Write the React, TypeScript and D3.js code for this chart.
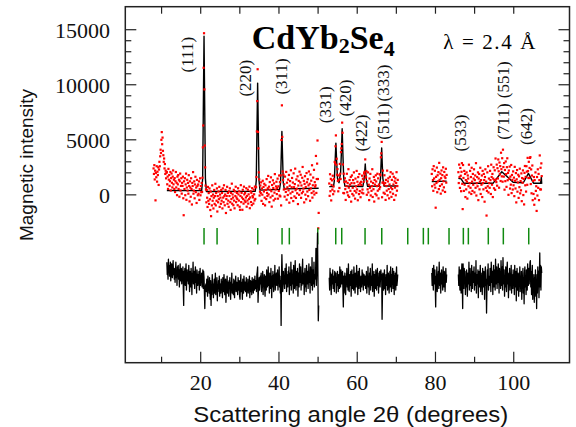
import React from 'react';
import * as d3 from 'd3';

const W = 576;
const H = 427;
const STEP = 0.1; // degrees between measured points
const RESID_UNIT = 140; // counts per unit in the residual arrays
const DIFF_OFFSET = -7800; // vertical offset of the difference curve (counts)

// X ticks (degrees) and labels
const xMinorTicks = [10, 20, 30, 40, 50, 60, 70, 80, 90, 100];
const xTickLabels = [20, 40, 60, 80, 100];
// Y ticks (counts) and labels
const yMinorTicks = [0, 1000, 2000, 3000, 4000, 5000, 6000, 7000, 8000, 9000, 10000, 11000, 12000, 13000, 14000, 15000];
const yTickLabels = [0, 5000, 10000, 15000];

// Bragg reflection positions (green ticks), degrees
const braggPositions = [20.85, 24.18, 34.58, 40.79, 42.65, 49.91, 54.51, 56.04, 62.0, 66.27, 72.91, 76.9, 78.17, 83.46, 87.12, 88.4, 93.5, 97.34, 103.83];

// Peak labels: text, angle, intensity of label centre
const peakLabelText = ['(111)', '(220)', '(311)', '(331)', '(420)', '(422)', '(511)', '(333)', '(533)', '(711)', '(551)', '(642)'];
const peakLabelAngle = [16.55, 31.33, 40.53, 51.78, 56.9, 61.15, 66.7, 66.7, 86.28, 97.35, 97.35, 103.3];
const peakLabelLevel = [12730, 10600, 10750, 8180, 8790, 5610, 6660, 10150, 5610, 6660, 10450, 6210];

// Observed data below the refined range (hundreds of counts), from 7.95 deg
const obsLowStart = 7.95;
const obsLow = [24, 19, 27, 14, 22, -5, 20, 16, 26, 12, 21, 18, 25, 9, 23, 30, 26, 35, 41, 38, 50, 57, 46, 52, 40, 36, 30, 33, 24, 28, 19, 22, 15, 20];

// Calculated profile, segment 1 [angle, counts]
const calc1 = [
  [11.35, 400], [20.25, 380], [20.5, 1500], [20.65, 7000], [20.85, 14400], [21.05, 7000], [21.2, 1500], [21.45, 300],
  [33.95, 330], [34.2, 1300], [34.35, 5200], [34.55, 10150], [34.75, 5200], [34.9, 1300], [35.15, 430],
  [40.15, 500], [40.4, 1100], [40.55, 3100], [40.75, 5750], [40.95, 3100], [41.1, 1100], [41.35, 540],
  [50.15, 600],
];
// Difference obs - calc, segment 1 (RESID_UNIT counts), from 11.35 deg
const resid1 = [
  12, 4, 9, 1, 14, 7, 10, 3, 6, 12, 0, 8, 11, 5, 2, 9, 13, 4, 7, 1,
  8, -1, 6, 12, 2, 5, -3, 9, 4, 10, 1, 7, -4, 6, 11, 0, 3, 8, -2, 5,
  3, 9, -5, -16, 6, 1, 8, -3, 4, 11, -6, 2, 7, 0, 5, -2, 10, 3, -7, 6,
  2, -4, 8, 1, -9, 5, 3, 12, -2, 0, 6, -5, 4, 9, -1, 2, -8, 7, 3, -3,
  4, -2, 6, -6, 1, 8, -3, 3, -1, 5, -4, 2, 7, -5, 6, 2, -8, -18, -6, -3,
  -2, -7, 1, -4, -10, 3, -6, -1, -8, 2, -5, -12, 0, -16, -3, -9, 4, -6, -2, -11,
  -4, 1, -8, -3, 5, -9, -1, -6, 2, -13, -3, -7, 0, -5, 3, -10, -2, -4, -8, 1,
  -6, -1, -11, 2, -4, -7, 4, -3, -9, -2, 1, -14, -5, -3, 3, -8, -1, -6, -10, 0,
  -3, 2, -7, -12, -1, -5, 5, -8, -2, -4, -9, 1, -6, -11, 0, -3, 3, -7, -4, -1,
  -5, -9, 2, -2, -6, 0, -10, -12, -3, 4, -7, -1, -4, -12, 1, -5, -8, 3, -2, -6,
  -1, -7, -4, 2, -10, -3, -6, 1, -8, -2, -5, 3, -11, -4, 0, -7, -1, -9, 2, -3,
  -4, -8, 1, -2, -6, 3, -5, 0, -3, -7, 4, 6, 9, -14, -7, -4, 2, -6, -1, 3,
  -2, 5, -7, 1, -3, 6, -9, 2, -1, 4, -5, -10, 3, 0, -6, 7, -2, -4, 1, 9,
  -3, 2, -8, 5, 0, -5, 8, -1, -11, 3, -4, 6, 1, -7, 4, -2, 10, -6, 0, 2,
  5, -3, 1, 7, -6, 2, -1, 9, -4, 3, -8, 0, -29, 4, 17, 6, -7, -3, 6, -2,
  3, -5, 8, 0, -2, 11, -7, 4, 1, -4, 6, -1, 9, -9, 2, 5, -3, 12, -6, 1,
  7, -2, 4, -8, 10, 1, -5, 3, 13, -1, -6, 6, 0, -3, 8, -10, 2, 5, -4, 11,
  -1, 4, 9, -6, 2, -3, 7, 14, -2, 0, 5, -9, 3, 8, -4, 1, -7, 10, 4, -2,
  6, -5, 2, 11, -1, 3, -8, 9, 0, 5, -3, 15, -6, 2, 7, -2, 12, -4, 4, 1,
  2, 21, -3, 6, 16, 31, 6, -26, -16,
];

// Segment 2
const calc2 = [
  [52.85, 750], [53.95, 760], [54.15, 1300], [54.35, 3000], [54.55, 4700], [54.75, 3000], [54.95, 1500], [55.35, 1100],
  [55.75, 2000], [55.95, 3800], [56.15, 6000], [56.35, 3600], [56.55, 1500], [56.85, 800],
  [61.45, 760], [61.75, 1400], [61.9, 2000], [62.05, 2800], [62.2, 2000], [62.35, 1300], [62.65, 780],
  [65.65, 800], [65.95, 1500], [66.1, 2900], [66.25, 4250], [66.4, 2800], [66.55, 1500], [66.85, 800],
  [70.35, 800],
];
const resid2 = [
  2, -6, 8, -3, 5, -9, 1, 4, -2, 7, -5, 0, 3, -7, 6, -1, 4, 5, -8, 2,
  -3, 6, -1, -7, 4, 2, -5, 9, 1, -4, 7, 3, -2, 4, 6, -6, -17, 3, -8, 1,
  5, -2, -9, 3, 0, 8, -4, 2, -6, 11, -1, -7, 4, 1, -3, 6, -10, 2, 7, -5,
  -1, 4, -6, 9, 2, -3, -8, 5, 0, -4, 10, -2, 3, -9, 6, 1, -5, 8, -3, 2,
  -7, 3, 1, -4, 7, -2, 5, -6, 0, 4, 2, -3, 3, -5, -1, 6, -8, 2, -2, 9,
  -4, 1, -9, 5, -1, 8, -6, 3, -3, 0, 11, -7, 2, -2, 6, -10, 4, 1, -5, 7,
  3, -6, 0, 8, -3, 5, -8, 1, -2, 6, -4, 2, 7, 3, 4, -25, -9, 5, -1, -6,
  1, 7, -5, 2, -9, 4, 0, -3, 10, -6, 3, 5, -2, -8, 1, 6, -4, 9, -1, -7,
  4, -2, 8, -5, 1, 6, -9, 3, -1, 5, -6, 2, 9, -3, 0, 4,
];

// Segment 3
const calc3 = [[79.05, 1200], [82.85, 1250]];
const resid3 = [
  5, -3, 8, 1, -6, 10, 2, -2, 7, -4, -17, 3, -1, 9, -7, 4, 0, 6, -5, 12,
  1, -3, 5, -8, 2, 7, -2, 4, -6, 9, 0, -4, 6, 3, -7, 2, 8, -1, 4,
];

// Segment 4
const calc4 = [
  [85.85, 1500], [86.55, 1450], [87.25, 1060], [94.75, 1060], [96.95, 2100], [99.85, 1150],
  [102.45, 1100], [103.75, 1950], [105.05, 1060], [106.85, 1060], [107.05, 1600], [107.15, 1000],
];
const resid4 = [
  4, -3, 9, 1, -6, 7, 2, -8, 5, 11, -2, -18, 11, 3, -5, 8, -1, 6, -9, 2,
  -4, 7, 1, -10, 5, 3, -2, 12, -6, 0, 8, -3, 4, -7, 10, 1, -5, 6, -1, 3,
  9, -6, 2, 5, -3, 13, -8, 0, 4, -2, 7, -11, 3, 6, -4, 1, 10, -7, 2, -1,
  5, -9, 8, 0, -4, 6, 2, -12, 4, 9, -3, 1, -21, -5, 7, -2, 11, -6, 3, 0,
  -3, 8, 2, -7, 12, 4, -1, 6, -9, 3, 10, -4, 1, 7, -6, 14, 0, -2, 9, -5,
  6, -1, 11, 3, -8, 8, 0, 5, -5, 13, 2, -3, 9, -6, 15, 4, -2, 7, -10, 3,
  -4, 9, 1, -7, 6, 12, -2, 3, -11, 5, 0, 8, -6, 2, -3, 10, -8, 4, 1, -5,
  7, -2, 3, -9, 10, 1, -4, 6, -13, 2, 8, -6, 0, 5, -10, 4, -3, 9, -7, 1,
  -5, 6, -12, 3, 0, 8, -8, 2, -15, 5, 9, -4, 1, -9, 7, 3, -6, 11, 2, -3,
  8, -2, 5, 12, 13, -4, 6, -9, 3, 10, -12, 1, -7, 4, -14, 2, -10, 7, -5, -2,
  -18, 4, -8, 9, -3, 6, -11, 2, 18, -4, 10, -6, 9, 5,
];

const segmentStarts = [11.35, 52.85, 79.05, 85.85];
const segmentCalcs = [calc1, calc2, calc3, calc4];
const segmentResids = [resid1, resid2, resid3, resid4];

const SERIF = '"Liberation Serif", "Times New Roman", "DejaVu Serif", serif';
const SANS = '"Liberation Sans", Arial, "DejaVu Sans", sans-serif';

function calcAt(poly: number[][], a: number): number {
  const i = d3.bisector((d: number[]) => d[0]).right(poly, a);
  if (i <= 0) return poly[0][1];
  if (i >= poly.length) return poly[poly.length - 1][1];
  const [x0, y0] = poly[i - 1];
  const [x1, y1] = poly[i];
  return y0 + ((y1 - y0) * (a - x0)) / (x1 - x0);
}

export default function App() {
  const left = 125.3, right = 569.5, top = 6.7, bottom = 362.7;
  const x = d3.scaleLinear().domain([0.73, 114.25]).range([left, right]);
  const y = d3.scaleLinear().domain([-15245, 17090]).range([bottom, top]);

  const line = d3.line<number[]>().x((d) => x(d[0])).y((d) => y(d[1]));

  const obsPts: number[][] = [];
  obsLow.forEach((v, i) => obsPts.push([obsLowStart + i * STEP, v * 100]));
  const diffPaths: string[] = [];
  const calcPaths: string[] = [];
  segmentStarts.forEach((s, k) => {
    const calc = segmentCalcs[k];
    const res = segmentResids[k];
    const diffPts: number[][] = [];
    res.forEach((r, i) => {
      const a = s + i * STEP;
      obsPts.push([a, calcAt(calc, a) + r * RESID_UNIT]);
      diffPts.push([a, r * RESID_UNIT + DIFF_OFFSET]);
    });
    diffPaths.push(line(diffPts) || '');
    calcPaths.push(line(calc) || '');
  });

  const braggTop = y(-3000);
  const braggBot = y(-4500);

  return (
    <svg width={W} height={H} style={{ position: 'absolute', left: 0, top: 0, background: '#fff' }}>
      <rect x={0} y={0} width={W} height={H} fill="#fff" />
      {calcPaths.map((d, i) => (
        <path key={'c' + i} d={d} fill="none" stroke="#000" strokeWidth={1.4} strokeLinejoin="round" />
      ))}
      {obsPts.map((p, i) => (
        <rect key={'o' + i} x={x(p[0]) - 1.1} y={y(p[1]) - 1.1} width={2.2} height={2.2} fill="#ff0000" />
      ))}
      {braggPositions.map((b, i) => (
        <line key={'b' + i} x1={x(b)} x2={x(b)} y1={braggTop} y2={braggBot} stroke="#108a10" strokeWidth={1.5} />
      ))}
      {diffPaths.map((d, i) => (
        <path key={'d' + i} d={d} fill="none" stroke="#000" strokeWidth={1.3} strokeLinejoin="round" />
      ))}
      <rect x={left} y={top} width={right - left} height={bottom - top} fill="none" stroke="#222" strokeWidth={1.5} />
      {xMinorTicks.map((t) => {
        const major = xTickLabels.includes(t);
        return (
          <g key={'xt' + t}>
            <line x1={x(t)} x2={x(t)} y1={bottom} y2={bottom - (major ? 11 : 6)} stroke="#222" strokeWidth={1.2} />
            <line x1={x(t)} x2={x(t)} y1={top} y2={top + 7} stroke="#222" strokeWidth={1.2} />
          </g>
        );
      })}
      {xTickLabels.map((t) => (
        <text key={'xl' + t} x={x(t)} y={390} textAnchor="middle" fontFamily={SERIF} fontSize={22} fill="#111">
          {t}
        </text>
      ))}
      {yMinorTicks.map((t) => {
        const major = yTickLabels.includes(t);
        const len = major ? 11 : 6;
        return (
          <g key={'yt' + t}>
            <line x1={left} x2={left + len} y1={y(t)} y2={y(t)} stroke="#222" strokeWidth={1.2} />
            <line x1={right} x2={right - len} y1={y(t)} y2={y(t)} stroke="#222" strokeWidth={1.2} />
          </g>
        );
      })}
      {yTickLabels.map((t) => (
        <text key={'yl' + t} x={110} y={y(t) + 8} textAnchor="end" fontFamily={SERIF} fontSize={22} fill="#111">
          {t}
        </text>
      ))}
      {peakLabelText.map((t, i) => (
        <text
          key={'pl' + i}
          transform={`translate(${x(peakLabelAngle[i])},${y(peakLabelLevel[i])}) rotate(-90)`}
          textAnchor="middle"
          dominantBaseline="central"
          fontFamily={SERIF}
          fontSize={17}
          fill="#111"
        >
          {t}
        </text>
      ))}
      <text x={251.7} y={49.3} fontFamily={SERIF} fontWeight="bold" fontSize={34} fill="#000">
        CdYb
        <tspan fontSize={22} dy={4}>2</tspan>
        <tspan fontSize={34} dy={-4}>Se</tspan>
        <tspan fontSize={22} dy={7}>4</tspan>
      </text>
      <text x={443.3} y={49.3} fontFamily={SERIF} fontSize={21} fill="#000" textLength={92} lengthAdjust="spacing">
        λ = 2.4 Å
      </text>
      <text x={350.8} y={421.7} textAnchor="middle" fontFamily={SANS} fontSize={22} fill="#111" textLength={315} lengthAdjust="spacingAndGlyphs">
        Scattering angle 2θ (degrees)
      </text>
      <text transform="translate(33.3,165) rotate(-90)" textAnchor="middle" fontFamily={SANS} fontSize={19} fill="#111">
        Magnetic intensity
      </text>
    </svg>
  );
}
